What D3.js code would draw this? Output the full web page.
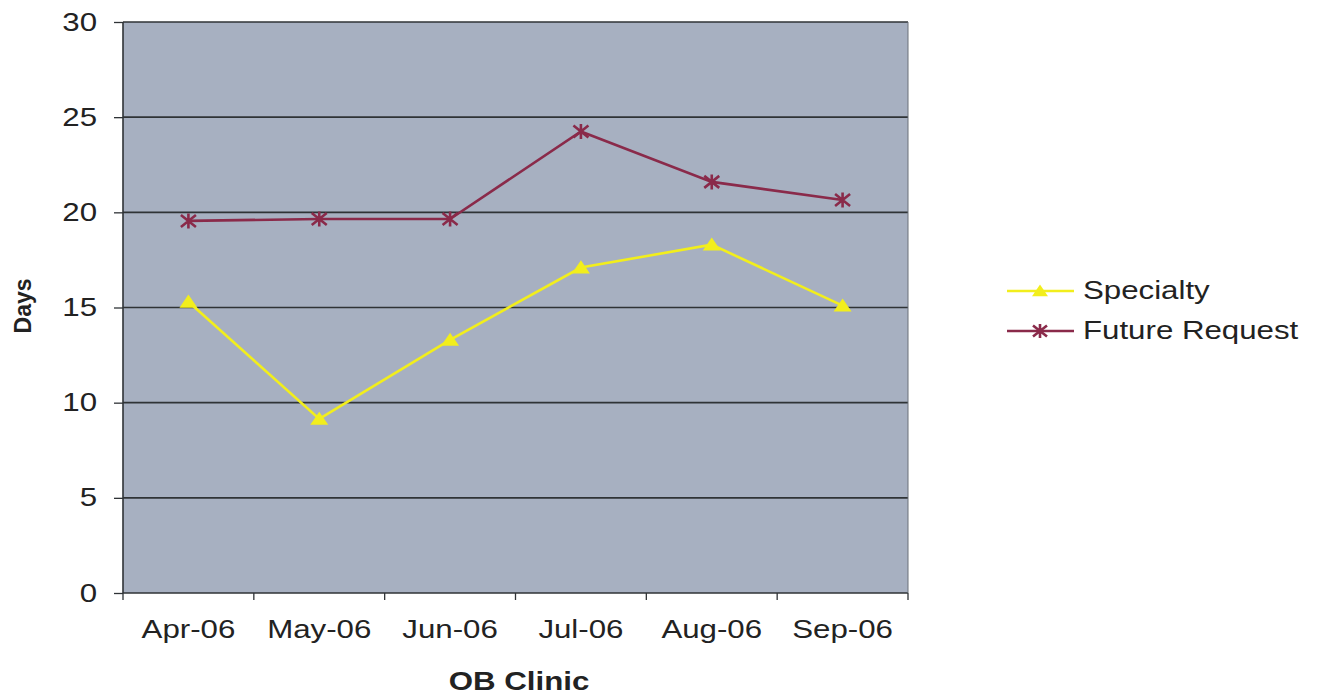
<!DOCTYPE html>
<html><head><meta charset="utf-8">
<script src="https://cdn.jsdelivr.net/npm/d3@7"></script>
<style>body{margin:0;background:#fff;} text{font-family:"Liberation Sans",Arial,sans-serif;fill:#222;}</style>
</head><body>
<svg id="c" width="1325" height="698"></svg>
<script>
const categories = ["Apr-06","May-06","Jun-06","Jul-06","Aug-06","Sep-06"];
const specialty = [15.3, 9.15, 13.3, 17.1, 18.3, 15.1];
const futureRequest = [19.55, 19.65, 19.65, 24.25, 21.6, 20.65];
const yTicks = [0,5,10,15,20,25,30];
const seriesNames = ["Specialty","Future Request"];

const SX = 1.25, FS = 25;
function stretch(sel){
  sel.each(function(){
    const t = d3.select(this);
    const X = +(t.attr("x")||0);
    t.attr("transform",`translate(${X},0) scale(${SX},1) translate(${-X},0)`);
  });
}

const svg = d3.select("#c");
const L=123, R=908, T=22, B=593;
const x = d3.scaleBand().domain(categories).range([L,R]);
const y = d3.scaleLinear().domain([0,30]).range([B,T]);

svg.append("rect").attr("x",L).attr("y",T).attr("width",R-L).attr("height",B-T).attr("fill","#a7b0c1");

// gridlines
svg.append("g").selectAll("line").data(yTicks).join("line")
  .attr("x1",L).attr("x2",R).attr("y1",d=>y(d)).attr("y2",d=>y(d))
  .attr("stroke","#2f3336").attr("stroke-width",1.6);
svg.append("line").attr("x1",L).attr("x2",L).attr("y1",T).attr("y2",B).attr("stroke","#2f3336").attr("stroke-width",1.6);
svg.append("line").attr("x1",R).attr("x2",R).attr("y1",T).attr("y2",B).attr("stroke","#6a7078").attr("stroke-width",1);

// y axis
const ya = svg.append("g").attr("transform",`translate(${L},0)`)
  .call(d3.axisLeft(y).tickValues(yTicks).tickSize(9).tickPadding(17));
ya.select(".domain").remove();
ya.selectAll("line").attr("stroke","#2f3336").attr("stroke-width",1.3);
ya.selectAll("text").attr("font-size",FS).style("font-family","Liberation Sans, Arial").attr("fill","#222").call(stretch);

// x axis
const xa = svg.append("g").attr("transform",`translate(0,${B})`)
  .call(d3.axisBottom(x).tickSize(0).tickPadding(27));
xa.select(".domain").remove();
xa.selectAll("text").attr("font-size",FS).style("font-family","Liberation Sans, Arial").attr("fill","#222").call(stretch);
const bounds = categories.map(c=>x(c)).concat([R]);
svg.append("g").selectAll("line").data(bounds).join("line")
  .attr("x1",d=>d).attr("x2",d=>d).attr("y1",B).attr("y2",B+7)
  .attr("stroke","#2f3336").attr("stroke-width",1.3);

const cx = c => x(c)+x.bandwidth()/2;
const line = d3.line().x((d,i)=>cx(categories[i])).y(d=>y(d));

const colF="#8a2a4a", colS="#f2ee1c";
svg.append("path").datum(futureRequest).attr("d",line).attr("fill","none").attr("stroke",colF).attr("stroke-width",2.6);
svg.append("path").datum(specialty).attr("d",line).attr("fill","none").attr("stroke",colS).attr("stroke-width",2.6);

function star(g, px, py, s, col){
  const a=s;
  g.append("path").attr("d",`M${px-a},${py-a*0.8}L${px+a},${py+a*0.8}M${px-a},${py+a*0.8}L${px+a},${py-a*0.8}M${px},${py-a}L${px},${py+a}`)
   .attr("stroke",col).attr("stroke-width",2.6).attr("fill","none");
}
function tri(g, px, py, s, col){
  g.append("path").attr("d",`M${px},${py-s*0.8}L${px+s},${py+s*0.65}L${px-s},${py+s*0.65}Z`).attr("fill",col);
}
const mk = svg.append("g");
futureRequest.forEach((v,i)=>star(mk, cx(categories[i]), y(v), 7.5, colF));
specialty.forEach((v,i)=>tri(mk, cx(categories[i]), y(v), 9, colS));

// axis titles
svg.append("text").attr("x",519).attr("y",690).attr("text-anchor","middle").attr("font-size",FS).attr("font-weight","bold").text("OB Clinic").call(stretch);
svg.append("text").attr("transform","translate(31,306) rotate(-90)").attr("text-anchor","middle").attr("font-size",23).attr("font-weight","bold").text("Days");

// legend
const lg = svg.append("g");
const ly = [291, 331];
const lcols = [colS, colF];
seriesNames.forEach((n,i)=>{
  lg.append("line").attr("x1",1007).attr("x2",1074).attr("y1",ly[i]).attr("y2",ly[i]).attr("stroke",lcols[i]).attr("stroke-width",2.6);
  if(i===0) tri(lg,1040,ly[i],8,colS); else star(lg,1040,ly[i],7,colF);
  lg.append("text").attr("x",1083).attr("y",ly[i]+8).attr("font-size",FS).text(n).call(stretch);
});
</script>
</body></html>
